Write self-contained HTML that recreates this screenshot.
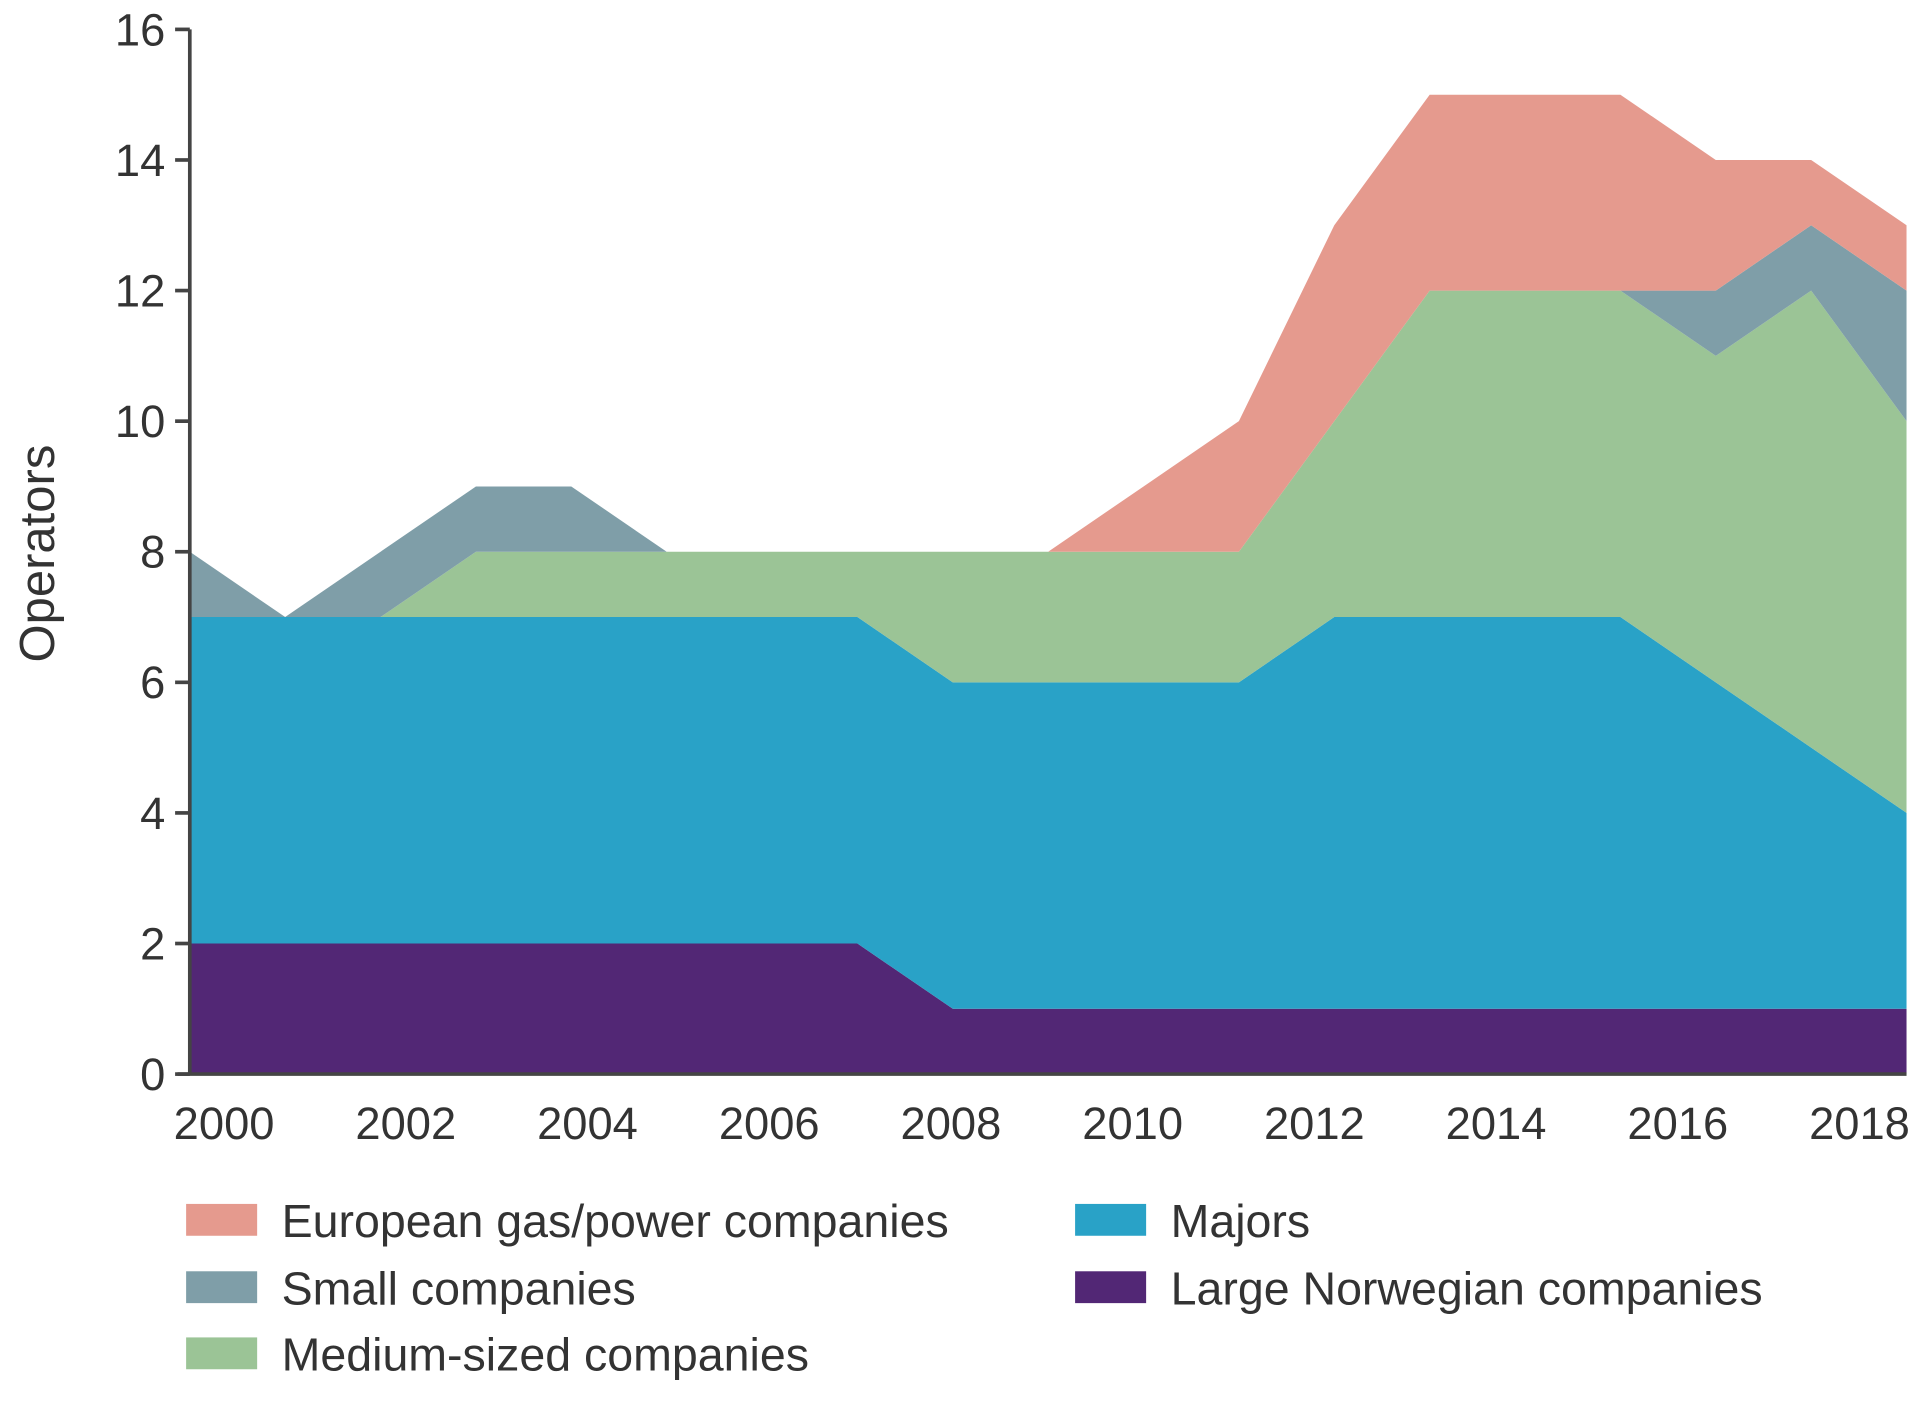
<!DOCTYPE html>
<html><head><meta charset="utf-8"><style>
html,body{margin:0;padding:0;background:#fff;}
svg{display:block;font-family:"Liberation Sans",sans-serif;}
</style></head><body>
<svg id="chart" width="1920" height="1406" viewBox="0 0 1568 1148" preserveAspectRatio="none">
<g id="areas"></g>
<g id="axes"></g>
<g id="legend"></g>
</svg>
<script>
const years=[2000,2001,2002,2003,2004,2005,2006,2007,2008,2009,2010,2011,2012,2013,2014,2015,2016,2017,2018];
const largeNorwegian=[2,2,2,2,2,2,2,2,1,1,1,1,1,1,1,1,1,1,1];
const majors=[5,5,5,5,5,5,5,5,5,5,5,5,6,6,6,6,5,4,3];
const medium=[0,0,0,1,1,1,1,1,2,2,2,2,3,5,5,5,5,7,6];
const small=[1,0,1,1,1,0,0,0,0,0,0,0,0,0,0,0,1,1,2];
const european=[0,0,0,0,0,0,0,0,0,0,1,2,3,3,3,3,2,1,1];
const yTicks=[0,2,4,6,8,10,12,14,16];
const xLabels=["2000","2002","2004","2006","2008","2010","2012","2014","2016","2018"];
const NS="http://www.w3.org/2000/svg";
const x0=155,x1=1557,yBase=877,yTop=24;
function xs(i){return x0+(x1-x0)*i/(years.length-1);}
function ys(v){return yBase-(yBase-yTop)*v/16;}
const series=[
 {name:"large-norwegian",label:"Large Norwegian companies",vals:largeNorwegian,color:"#522775"},
 {name:"majors",label:"Majors",vals:majors,color:"#29a2c7"},
 {name:"medium",label:"Medium-sized companies",vals:medium,color:"#9bc496"},
 {name:"small",label:"Small companies",vals:small,color:"#7f9ea8"},
 {name:"european",label:"European gas/power companies",vals:european,color:"#e59a8e"}];
const areas=document.getElementById('areas');
let base=years.map(()=>0);
series.forEach(s=>{
 const top=base.map((b,i)=>b+s.vals[i]);
 let d="M"+years.map((y,i)=>xs(i)+","+ys(top[i])).join(" L");
 for(let i=years.length-1;i>=0;i--) d+=" L"+xs(i)+","+ys(base[i]);
 d+=" Z";
 const p=document.createElementNS(NS,'path');
 p.setAttribute('d',d);p.setAttribute('fill',s.color);
 
 
 areas.appendChild(p);
 base=top;
});
const axes=document.getElementById('axes');
function el(tag,attrs,parent,text){const e=document.createElementNS(NS,tag);for(const k in attrs)e.setAttribute(k,attrs[k]);if(text!==undefined)e.textContent=text;parent.appendChild(e);return e;}
const yl=el('line',{x1:x0,y1:yTop,x2:x0,y2:yBase,stroke:'#444','stroke-width':3},axes);


const xl=el('line',{x1:x0-10,y1:yBase,x2:x1,y2:yBase,stroke:'#444','stroke-width':3},axes);


yTicks.forEach(v=>{
 const t=el('line',{x1:x0-12,y1:ys(v),x2:x0,y2:ys(v),stroke:'#444','stroke-width':3},axes);
 
 
 const tx=el('text',{x:x0-20,y:ys(v)+13,'text-anchor':'end','font-size':37,fill:'#333'},axes,String(v));
 
 
});
xLabels.forEach((l,i)=>{
 const tx=el('text',{x:183+i*148.4,y:930,'text-anchor':'middle','font-size':37,fill:'#333'},axes,l);
 
 
});
const yt=el('text',{x:44,y:452,'text-anchor':'middle','font-size':40,fill:'#333',transform:'rotate(-90 44 452)'},axes,'Operators');


const leg=document.getElementById('legend');
const legendOrder=[[4,152,996],[3,152,1051],[2,152,1105],[1,878,996],[0,878,1051]];
legendOrder.forEach(([si,x,y])=>{
 const s=series[si];
 const r=el('rect',{x:x,y:y-13,width:58,height:26,fill:s.color},leg);
 
 
 const t=el('text',{x:x+78,y:y+14,'font-size':38,fill:'#333'},leg,s.label);
 
 
});
</script>
</body></html>
